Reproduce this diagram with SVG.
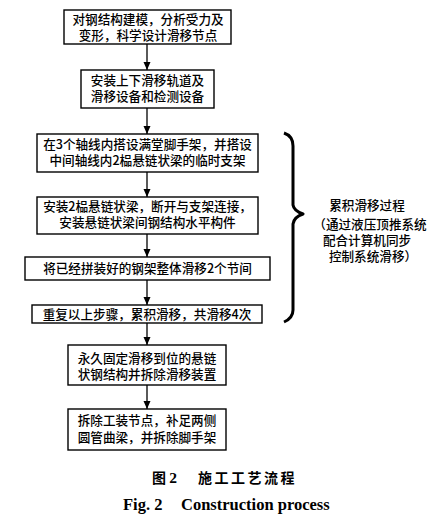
<svg xmlns="http://www.w3.org/2000/svg" width="446" height="528" viewBox="0 0 446 528">
<defs>
<style>
.box{fill:#fff;stroke:#000;stroke-width:1.4}
.t{font-family:"Noto Sans CJK SC","Noto Sans CJK JP",sans-serif;font-size:12.6px;font-weight:500;fill:#000;text-anchor:middle}
.c{stroke:#000;stroke-width:1.3;fill:none}
.brace{stroke:#000;stroke-width:3;fill:none;stroke-linejoin:round}
.cap{font-family:"Noto Sans CJK SC",sans-serif;font-size:14px;font-weight:bold;fill:#000}
.en{font-family:"Liberation Serif",serif;font-size:16.5px;font-weight:bold;fill:#000}
</style>
<marker id="ah" viewBox="0 0 8 8" refX="8" refY="4" markerWidth="8" markerHeight="8" markerUnits="userSpaceOnUse" orient="auto">
<path d="M0,0.5 L8,4 L0,7.5 Z" fill="#000"/>
</marker>
</defs>
<rect width="446" height="528" fill="#fff"/>
<g id="connectors">
<line class="c" x1="147" y1="44" x2="147" y2="70" marker-end="url(#ah)"/>
<line class="c" x1="147" y1="108" x2="147" y2="134" marker-end="url(#ah)"/>
<line class="c" x1="147" y1="172" x2="147" y2="197" marker-end="url(#ah)"/>
<line class="c" x1="147" y1="234" x2="147" y2="257" marker-end="url(#ah)"/>
<line class="c" x1="147" y1="280" x2="147" y2="305" marker-end="url(#ah)"/>
<line class="c" x1="147" y1="323" x2="147" y2="345" marker-end="url(#ah)"/>
<line class="c" x1="147" y1="385" x2="147" y2="409" marker-end="url(#ah)"/>
</g>
<g id="n1">
<rect class="box" x="64" y="10" width="167" height="34"/>
<text class="t"><tspan x="148" y="23.5">对钢结构建模，分析受力及</tspan><tspan x="148" y="39.5">变形，科学设计滑移节点</tspan></text>
</g>
<g id="n2">
<rect class="box" x="81" y="70" width="133" height="38"/>
<text class="t"><tspan x="147.5" y="84.5">安装上下滑移轨道及</tspan><tspan x="147.5" y="100.5">滑移设备和检测设备</tspan></text>
</g>
<g id="n3">
<rect class="box" x="37" y="134" width="221" height="38"/>
<text class="t"><tspan x="147.5" y="149">在3个轴线内搭设满堂脚手架，并搭设</tspan><tspan x="147.5" y="165">中间轴线内2榀悬链状梁的临时支架</tspan></text>
</g>
<g id="n4">
<rect class="box" x="37" y="197" width="221" height="37"/>
<text class="t"><tspan x="147.5" y="211">安装2榀悬链状梁，断开与支架连接，</tspan><tspan x="147.5" y="227">安装悬链状梁间钢结构水平构件</tspan></text>
</g>
<g id="n5">
<rect class="box" x="25" y="257" width="245" height="23"/>
<text class="t" x="147.5" y="273">将已经拼装好的钢架整体滑移2个节间</text>
</g>
<g id="n6">
<rect class="box" x="32" y="305" width="230" height="18"/>
<text class="t" x="147" y="318.5">重复以上步骤，累积滑移，共滑移4次</text>
</g>
<g id="n7">
<rect class="box" x="68" y="345" width="158" height="40"/>
<text class="t"><tspan x="147" y="362.5">永久固定滑移到位的悬链</tspan><tspan x="147" y="378.5">状钢结构并拆除滑移装置</tspan></text>
</g>
<g id="n8">
<rect class="box" x="68" y="409" width="158" height="41"/>
<text class="t"><tspan x="147" y="425">拆除工装节点，补足两侧</tspan><tspan x="147" y="441.5">圆管曲梁，并拆除脚手架</tspan></text>
</g>
<g id="brace">
<path class="brace" d="M284,133 Q293,136 293,146 L293,205 Q294,211 303,214 Q294,217 293,224 L293,310 Q293,318 284,322"/>
<text class="t"><tspan x="367" y="209.5">累积滑移过程</tspan><tspan x="370" y="228.5">（通过液压顶推系统</tspan><tspan x="367" y="244.5">配合计算机同步</tspan><tspan x="373" y="260.5">控制系统滑移）</tspan></text>
</g>
<g id="caption">
<text class="cap" x="152" y="483">图 <tspan font-family="Liberation Serif" font-size="15.5px">2</tspan></text>
<text class="cap" x="198" y="483" letter-spacing="2.5">施工工艺流程</text>
<text class="en" x="123" y="510">Fig. 2</text>
<text class="en" x="181" y="510">Construction process</text>
</g>
</svg>
